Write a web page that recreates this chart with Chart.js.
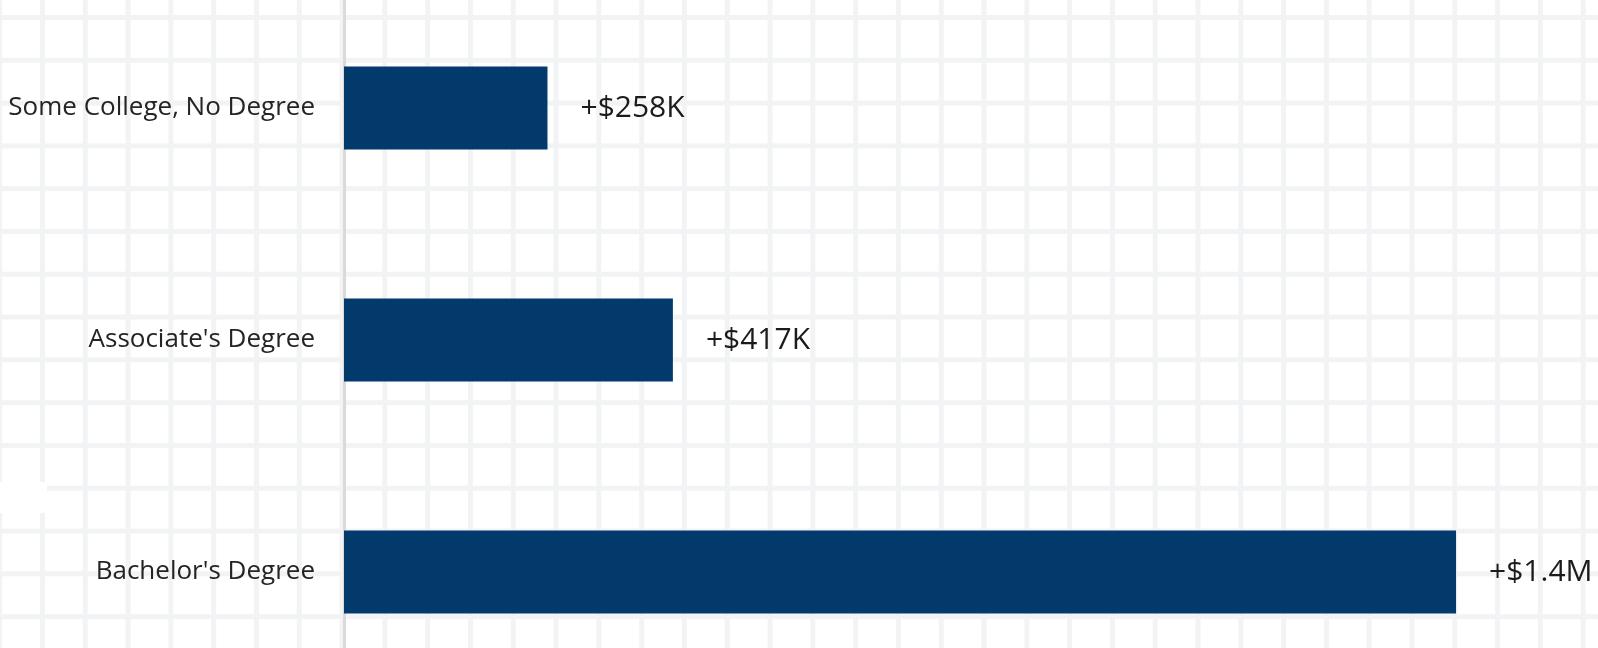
<!DOCTYPE html>
<html>
<head>
<meta charset="utf-8">
<script src="https://cdn.jsdelivr.net/npm/chart.js@4"></script>
<style>
  html, body {
    margin: 0;
    width: 1598px;
    height: 648px;
    overflow: hidden;
  }
  body {
    position: relative;
    background-color: #ffffff;
    background-image:
      linear-gradient(to right, #f2f3f4 5px, transparent 5px),
      linear-gradient(to bottom, #f2f3f4 5px, transparent 5px);
    background-size: 42.8px 42.8px;
    background-position: 40px 15px;
  }
  .patch {
    position: absolute;
    left: 0;
    top: 482px;
    width: 47px;
    height: 31px;
    background: #ffffff;
  }
  .wrap {
    position: absolute;
    left: 0;
    top: -8px;
    width: 1598px;
    height: 696px;
  }
</style>
</head>
<body>
<div class="patch"></div>
<div class="wrap"><canvas id="gainChart"></canvas></div>
<script>
// lifetime earnings gain over a high school diploma, in $K
var categories = ['Some College, No Degree', "Associate's Degree", "Bachelor's Degree"];
var gains = [258, 417, 1410];

function fmtGain(v) {
    if (v >= 1000) return '+$' + (v / 1000).toFixed(1) + 'M';
    return '+$' + v + 'K';
}

// value labels to the right of each bar
var valueLabels = {
    id: 'valueLabels',
    afterDatasetsDraw: function (chart) {
        var c = chart.ctx;
        var meta = chart.getDatasetMeta(0);
        c.save();
        c.font = '30px "Open Sans"';
        c.fillStyle = '#1b1b1b';
        c.textAlign = 'left';
        c.textBaseline = 'middle';
        meta.data.forEach(function (bar, i) {
            c.fillText(fmtGain(gains[i]), bar.x + 33, bar.y);
        });
        c.restore();
    }
};

var ctx = document.getElementById('gainChart').getContext('2d');
var gainChart = new Chart(ctx, {
    type: 'bar',
    data: {
        labels: categories,
        datasets: [{
            data: gains,
            backgroundColor: '#013a6b',
            borderWidth: 0,
            categoryPercentage: 1,
            barPercentage: 0.358
        }]
    },
    options: {
        indexAxis: 'y',
        responsive: true,
        maintainAspectRatio: false,
        animation: false,
        layout: { padding: 0 },
        scales: {
            x: {
                display: false,
                min: 0,
                max: 1590
            },
            y: {
                afterFit: function (scale) {
                    scale.width = 344;
                    scale.paddingTop = 0;
                    scale.paddingBottom = 0;
                },
                grid: { display: false, drawTicks: false },
                border: { display: true, color: '#dadada', width: 3 },
                ticks: {
                    padding: 29,
                    color: '#252423',
                    font: { family: 'Open Sans', size: 26 }
                }
            }
        },
        plugins: {
            legend: { display: false },
            tooltip: { enabled: false }
        }
    },
    plugins: [valueLabels]
});
</script>
</body>
</html>
